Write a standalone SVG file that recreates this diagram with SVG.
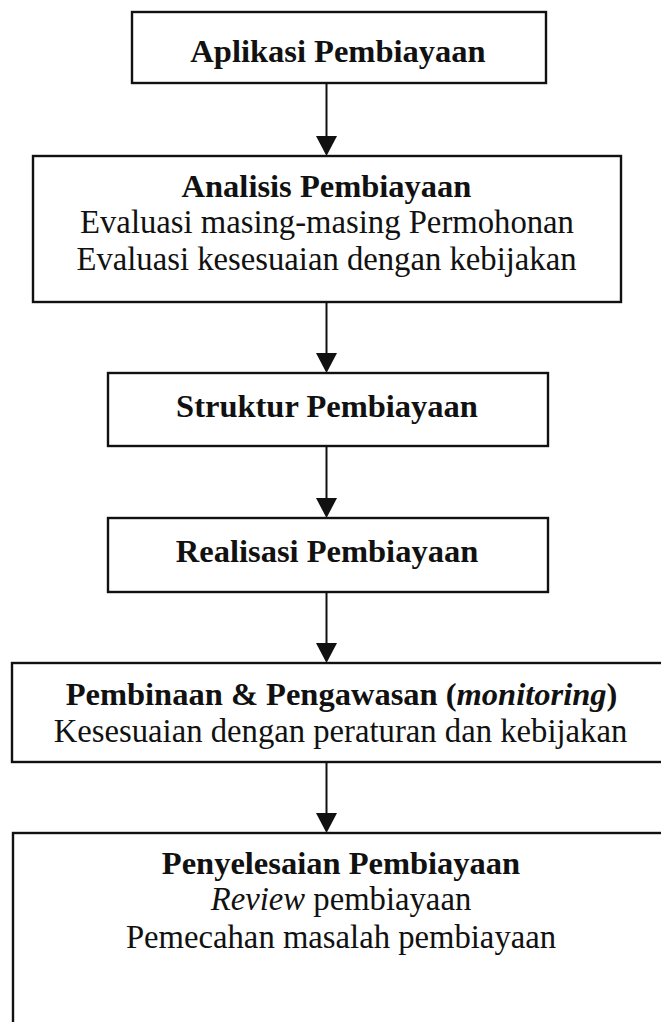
<svg xmlns="http://www.w3.org/2000/svg" width="661" height="1022" viewBox="0 0 661 1022">
  <style>
    .box { fill: #fff; stroke: #111; stroke-width: 2.4; }
    .link { stroke: #111; stroke-width: 2; fill: none; }
    text { font-family: "Liberation Serif", "Times New Roman", serif; font-size: 32.7px; fill: #111; text-anchor: middle; }
    .b { font-weight: bold; font-size: 32.5px; }
    .i { font-style: italic; }
  </style>
  <defs>
    <marker id="head" markerUnits="userSpaceOnUse" markerWidth="22" markerHeight="22" refX="0" refY="10.5" orient="auto" overflow="visible">
      <path d="M0,0 L20,10.5 L0,21 Z" fill="#111"/>
    </marker>
  </defs>
  <rect width="661" height="1022" fill="#fff"/>

  <g id="connectors">
    <line class="link" x1="326.5" y1="83" x2="326.5" y2="136" marker-end="url(#head)"/>
    <line class="link" x1="326.5" y1="302" x2="326.5" y2="353" marker-end="url(#head)"/>
    <line class="link" x1="326.5" y1="446" x2="326.5" y2="498" marker-end="url(#head)"/>
    <line class="link" x1="326.5" y1="592" x2="326.5" y2="643" marker-end="url(#head)"/>
    <line class="link" x1="326.5" y1="762" x2="326.5" y2="813" marker-end="url(#head)"/>
  </g>

  <g id="aplikasi">
    <rect class="box" x="132" y="12" width="414" height="71"/>
    <text class="b" x="338" y="62">Aplikasi Pembiayaan</text>
  </g>

  <g id="analisis">
    <rect class="box" x="33" y="156" width="588" height="146"/>
    <text class="b" x="326.5" y="197">Analisis Pembiayaan</text>
    <text x="327" y="233">Evaluasi masing-masing Permohonan</text>
    <text x="326.5" y="270">Evaluasi kesesuaian dengan kebijakan</text>
  </g>

  <g id="struktur">
    <rect class="box" x="108" y="373" width="440" height="73"/>
    <text class="b" x="327" y="417">Struktur Pembiayaan</text>
  </g>

  <g id="realisasi">
    <rect class="box" x="108" y="518" width="440" height="74"/>
    <text class="b" x="327" y="562">Realisasi Pembiayaan</text>
  </g>

  <g id="pembinaan">
    <rect class="box" x="12" y="663" width="660" height="99"/>
    <text class="b" x="341.5" y="705">Pembinaan &amp; Pengawasan (<tspan class="i">monitoring</tspan>)</text>
    <text x="340.5" y="742">Kesesuaian dengan peraturan dan kebijakan</text>
  </g>

  <g id="penyelesaian">
    <rect class="box" x="13" y="833" width="660" height="200"/>
    <text class="b" x="341" y="874">Penyelesaian Pembiayaan</text>
    <text x="341" y="910"><tspan class="i">Review</tspan> pembiayaan</text>
    <text x="341" y="948">Pemecahan masalah pembiayaan</text>
  </g>
</svg>
